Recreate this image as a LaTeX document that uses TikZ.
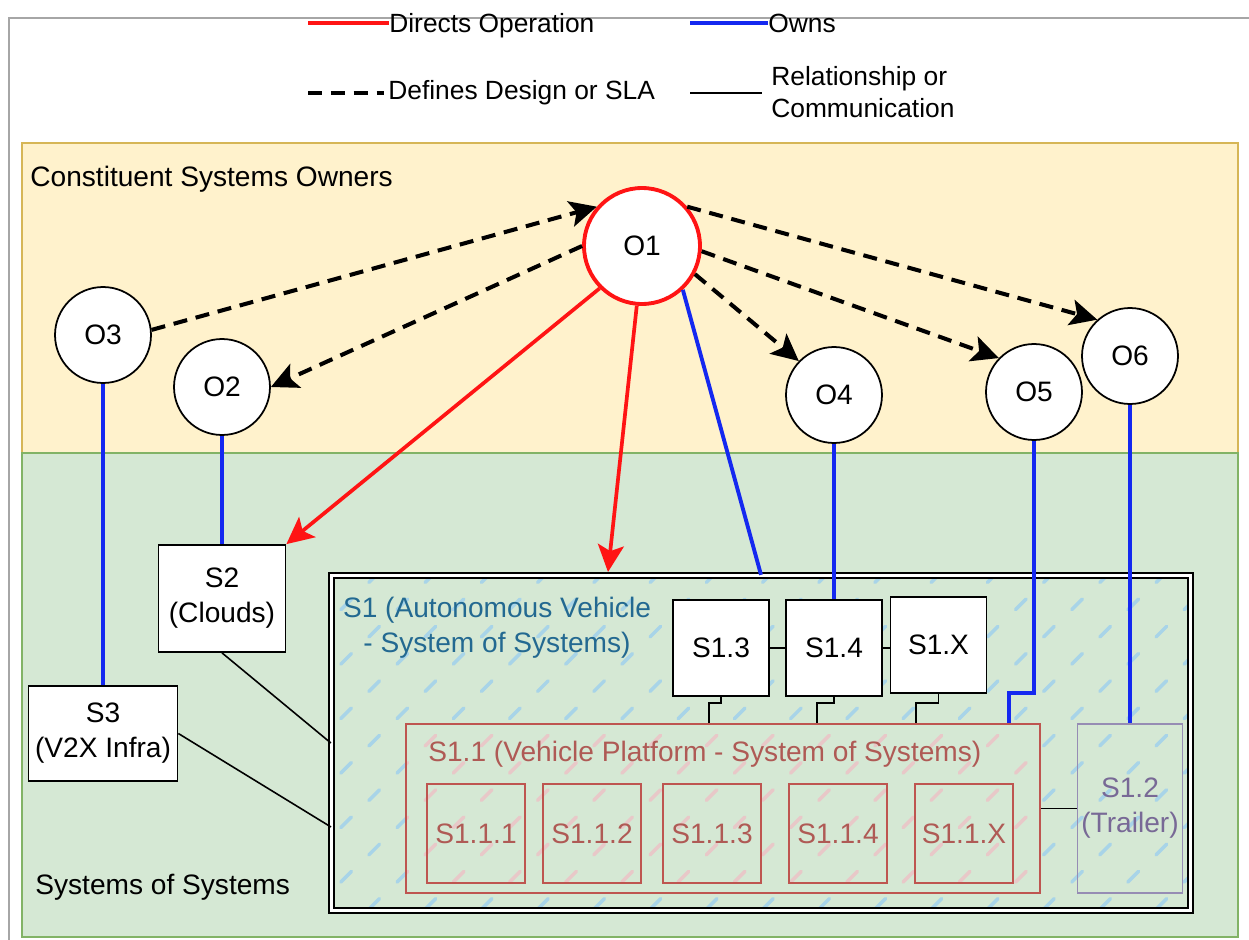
\documentclass[tikz,border=0pt]{standalone}
\usepackage{fontspec}
\setmainfont{Liberation Sans}
\usetikzlibrary{arrows.meta,patterns}
\definecolor{ownyellow}{RGB}{255,242,204}
\definecolor{ownborder}{RGB}{214,182,86}
\definecolor{sysgreen}{RGB}{213,232,212}
\definecolor{sysborder}{RGB}{130,179,102}
\definecolor{opred}{RGB}{255,20,20}
\definecolor{ownblue}{RGB}{20,40,240}
\definecolor{platred}{RGB}{190,85,80}
\definecolor{platredtxt}{RGB}{175,90,85}
\definecolor{trailpurple}{RGB}{150,140,180}
\definecolor{trailtxt}{RGB}{120,105,150}
\definecolor{sosteal}{RGB}{35,105,145}
\definecolor{hatchblue}{RGB}{168,212,232}
\definecolor{hatchpink}{RGB}{232,200,200}
\newcommand{\boxfont}{\fontsize{16pt}{19.9pt}\selectfont}
\newcommand{\legendfont}{\fontsize{15pt}{18.2pt}\selectfont}
\pgfdeclarepatternformonly{dashhatch}{\pgfqpoint{-2pt}{-2pt}}{\pgfqpoint{34pt}{33pt}}{\pgfqpoint{32pt}{31pt}}{%
  \pgfsetlinewidth{2pt}%
  \pgfsetroundcap
  \pgfpathmoveto{\pgfqpoint{2pt}{2pt}}\pgfpathlineto{\pgfqpoint{8pt}{8pt}}%
  \pgfpathmoveto{\pgfqpoint{18pt}{17.5pt}}\pgfpathlineto{\pgfqpoint{24pt}{23.5pt}}%
  \pgfusepath{stroke}}
\begin{document}
\begin{tikzpicture}[x=0.02cm, y=-0.02cm,
    owner/.style={circle, draw, line width=1pt, fill=white, minimum size=1.92cm, inner sep=0pt, font=\boxfont},
    sysbox/.style={rectangle, draw, line width=1pt, fill=white, align=center, inner sep=0pt, font=\boxfont},
    subbox/.style={rectangle, draw=platred, line width=0.9pt, text=platredtxt, minimum width=1.96cm, minimum height=1.98cm, inner sep=0pt, font=\boxfont},
    legtxt/.style={anchor=base west, inner sep=0pt, font=\legendfont},
    directs/.style={draw=opred, line width=2.1pt},
    owns/.style={draw=ownblue, line width=2.2pt},
    defines/.style={draw=black, line width=2.3pt, dash pattern=on 8pt off 5pt},
    relates/.style={draw=black, line width=0.9pt},
    headtip/.style={-{Stealth[length=0.54cm,width=0.52cm,inset=0.12cm]}}]
  \useasboundingbox (0,0) rectangle (1249,940);
  \draw[gray!70, line width=0.6pt] (9,940) -- (9,18) -- (1249,18);

  \coordinate (lgdirA) at (308,23);
  \node[legtxt] (lgdir) at (389,32) {Directs Operation};
  \draw[directs] (lgdirA) -- (lgdir.west |- lgdirA);
  \coordinate (lgownA) at (690,23);
  \node[legtxt] (lgown) at (768,32) {Owns};
  \draw[owns] (lgownA) -- (lgown.west |- lgownA);
  \coordinate (lgdefA) at (308,93);
  \node[legtxt] (lgdef) at (388,99) {Defines Design or SLA};
  \draw[defines] (lgdefA) -- ([xshift=-0.08cm]lgdef.west |- lgdefA);
  \coordinate (lgrelA) at (690,93);
  \node[anchor=west, inner sep=0pt, font=\legendfont, align=left] (lgrel) at (771,92) {Relationship or\\Communication};
  \draw[relates] (lgrelA) -- ([xshift=-0.18cm]lgrel.west |- lgrelA);

  \draw[draw=ownborder, fill=ownyellow, line width=0.8pt] (22,143) rectangle (1238,453);
  \draw[draw=sysborder, fill=sysgreen, line width=0.8pt] (22,453) rectangle (1238,937);
  \node[anchor=west, inner sep=0pt, font=\boxfont] (ownerzone) at (30,179) {Constituent Systems Owners};
  \node[anchor=west, inner sep=0pt, font=\boxfont] (soszone) at (35,887) {Systems of Systems};

  \node[draw, double, double distance=2pt, line width=0.8pt, pattern=dashhatch, pattern color=hatchblue,
        minimum width=17.18cm, minimum height=6.7cm, inner sep=0pt] (s1) at (761,743) {};
  \node[font=\boxfont, text=sosteal, align=center] (s1lbl) at (497,628) {S1 (Autonomous Vehicle\\- System of Systems)};
  \node[draw=platred, line width=0.9pt, preaction={fill=sysgreen}, pattern=dashhatch, pattern color=hatchpink,
        minimum width=12.68cm, minimum height=3.38cm, inner sep=0pt] (s11) at (723,808.5) {};
  \node[anchor=west, inner sep=0pt, font=\boxfont, text=platredtxt] (s11lbl) at (428,754) {S1.1 (Vehicle Platform - System of Systems)};
  \node[subbox] (s111) at (476,833.5) {S1.1.1};
  \node[subbox] (s112) at (592,833.5) {S1.1.2};
  \node[subbox] (s113) at (712,833.5) {S1.1.3};
  \node[subbox] (s114) at (838,833.5) {S1.1.4};
  \node[subbox] (s11x) at (964,833.5) {S1.1.X};
  \node[draw=trailpurple, line width=0.9pt, text=trailtxt, align=center, font=\boxfont,
        minimum width=2.1cm, minimum height=3.38cm, inner sep=0pt] (s12) at (1130,808.5) {S1.2\\(Trailer)};
  \node[sysbox, minimum size=1.92cm] (s13) at (721,648) {S1.3};
  \node[sysbox, minimum size=1.92cm] (s14) at (834,648) {S1.4};
  \node[sysbox, minimum size=1.92cm] (s1x) at (938.5,645) {S1.X};
  \node[sysbox, minimum width=2.54cm, minimum height=2.14cm] (s2) at (222,598.5) {S2\\(Clouds)};
  \node[sysbox, minimum width=2.98cm, minimum height=1.9cm] (s3) at (103,733.5) {S3\\(V2X Infra)};

  \node[owner, draw=opred, line width=2.2pt, minimum size=2.32cm] (o1) at (642,246) {O1};
  \node[owner] (o2) at (222,387) {O2};
  \node[owner] (o3) at (103,335) {O3};
  \node[owner] (o4) at (834,395) {O4};
  \node[owner] (o5) at (1034,392) {O5};
  \node[owner] (o6) at (1130,356) {O6};

  \draw[defines, headtip] (o3.6) -- (o1.139);
  \draw[defines, headtip] (o1.180) -- (o2.east);
  \draw[defines, headtip] (o1.-28) -- (o4.136);
  \draw[defines, headtip] (o1.-5) -- (o5.136);
  \draw[defines, headtip] (o1.41) -- (o6.132);

  \coordinate (s1dir) at (608,572);
  \draw[directs, headtip] (o1.225) -- (s2.north east);
  \draw[directs, headtip] (o1.265) -- (s1dir);
  \draw[owns] (o1.313) -- (s1.north);
  \draw[owns] (o2.south) -- (s2.north);
  \draw[owns] (o3.south) -- (s3.north);
  \draw[owns] (o4.south) -- (s14.north);
  \coordinate (o5bend) at (1009,693);
  \draw[owns] (o5.south) |- (o5bend) -- (o5bend |- s11.north);
  \draw[owns] (o6.south) -- (s12.north);

  \coordinate (s3in) at (331,827);
  \draw[relates] (s2.south) -- (s1.west);
  \draw[relates] (s3.east) -- (s3in);
  \draw[relates] (s11.east) -- (s12.west);
  \draw[relates] (s13.east) -- (s14.west);
  \draw[relates] (s14.east) -- (s14.east -| s1x.west);
  \coordinate (k13) at (709,703);
  \coordinate (k14) at (817,703);
  \coordinate (k1x) at (916,703);
  \draw[relates] (s13.south) |- (k13) -- (k13 |- s11.north);
  \draw[relates] (s14.south) |- (k14) -- (k14 |- s11.north);
  \draw[relates] (s1x.south) |- (k1x) -- (k1x |- s11.north);
\end{tikzpicture}
\end{document}
